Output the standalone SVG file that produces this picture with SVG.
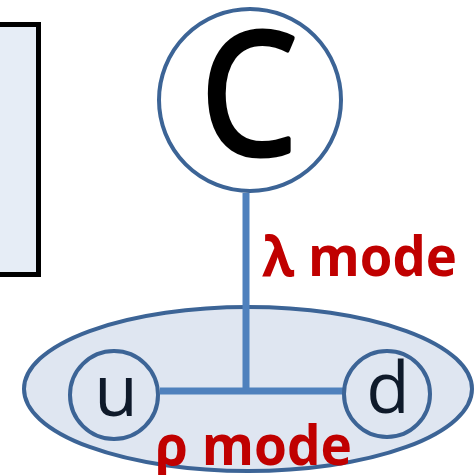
<svg xmlns="http://www.w3.org/2000/svg" width="475" height="475" viewBox="0 0 475 475">
<style>
.node{stroke:#3c6496;stroke-width:4}
.lbl{font-family:"Open Sans","Liberation Sans",sans-serif;fill:#0f1a2a;text-anchor:middle}
.mode{font-family:"Open Sans","Liberation Sans",sans-serif;font-weight:bold;fill:#c00000}
.conn{stroke:#4f81bd;stroke-width:7;fill:none}
</style>
<rect width="475" height="475" fill="#ffffff"/>
<g id="box">
<rect x="-20" y="24.5" width="58.5" height="250" fill="#e6edf6" stroke="#000000" stroke-width="5"/>
</g>
<g id="nucleon">
<ellipse cx="248" cy="389" rx="224" ry="82" fill="#dfe6f1" class="node"/>
</g>
<g id="C">
<circle cx="250" cy="100" r="91" fill="#ffffff" class="node"/>
<text x="0" y="0" class="lbl" transform="translate(249 154) scale(0.9 1)" style="fill:#000000;stroke:#000000;stroke-width:5;stroke-linejoin:round" font-size="170">C</text>
</g>
<g id="connectors">
<line x1="246" y1="193" x2="246" y2="394" class="conn"/>
<line x1="160" y1="391" x2="347" y2="391" class="conn"/>
</g>
<g id="u">
<circle cx="114" cy="395" r="44" fill="#dfe6f1" class="node"/>
<text x="116" y="416" class="lbl" font-size="71">u</text>
</g>
<g id="d">
<circle cx="387" cy="394" r="43" fill="#dfe6f1" class="node"/>
<text x="388" y="413" class="lbl" font-size="71">d</text>
</g>
<text x="262" y="276" class="mode" font-size="56" textLength="195" lengthAdjust="spacingAndGlyphs">λ mode</text>
<text x="155" y="465" class="mode" font-size="56" textLength="197" lengthAdjust="spacingAndGlyphs">ρ mode</text>
</svg>
